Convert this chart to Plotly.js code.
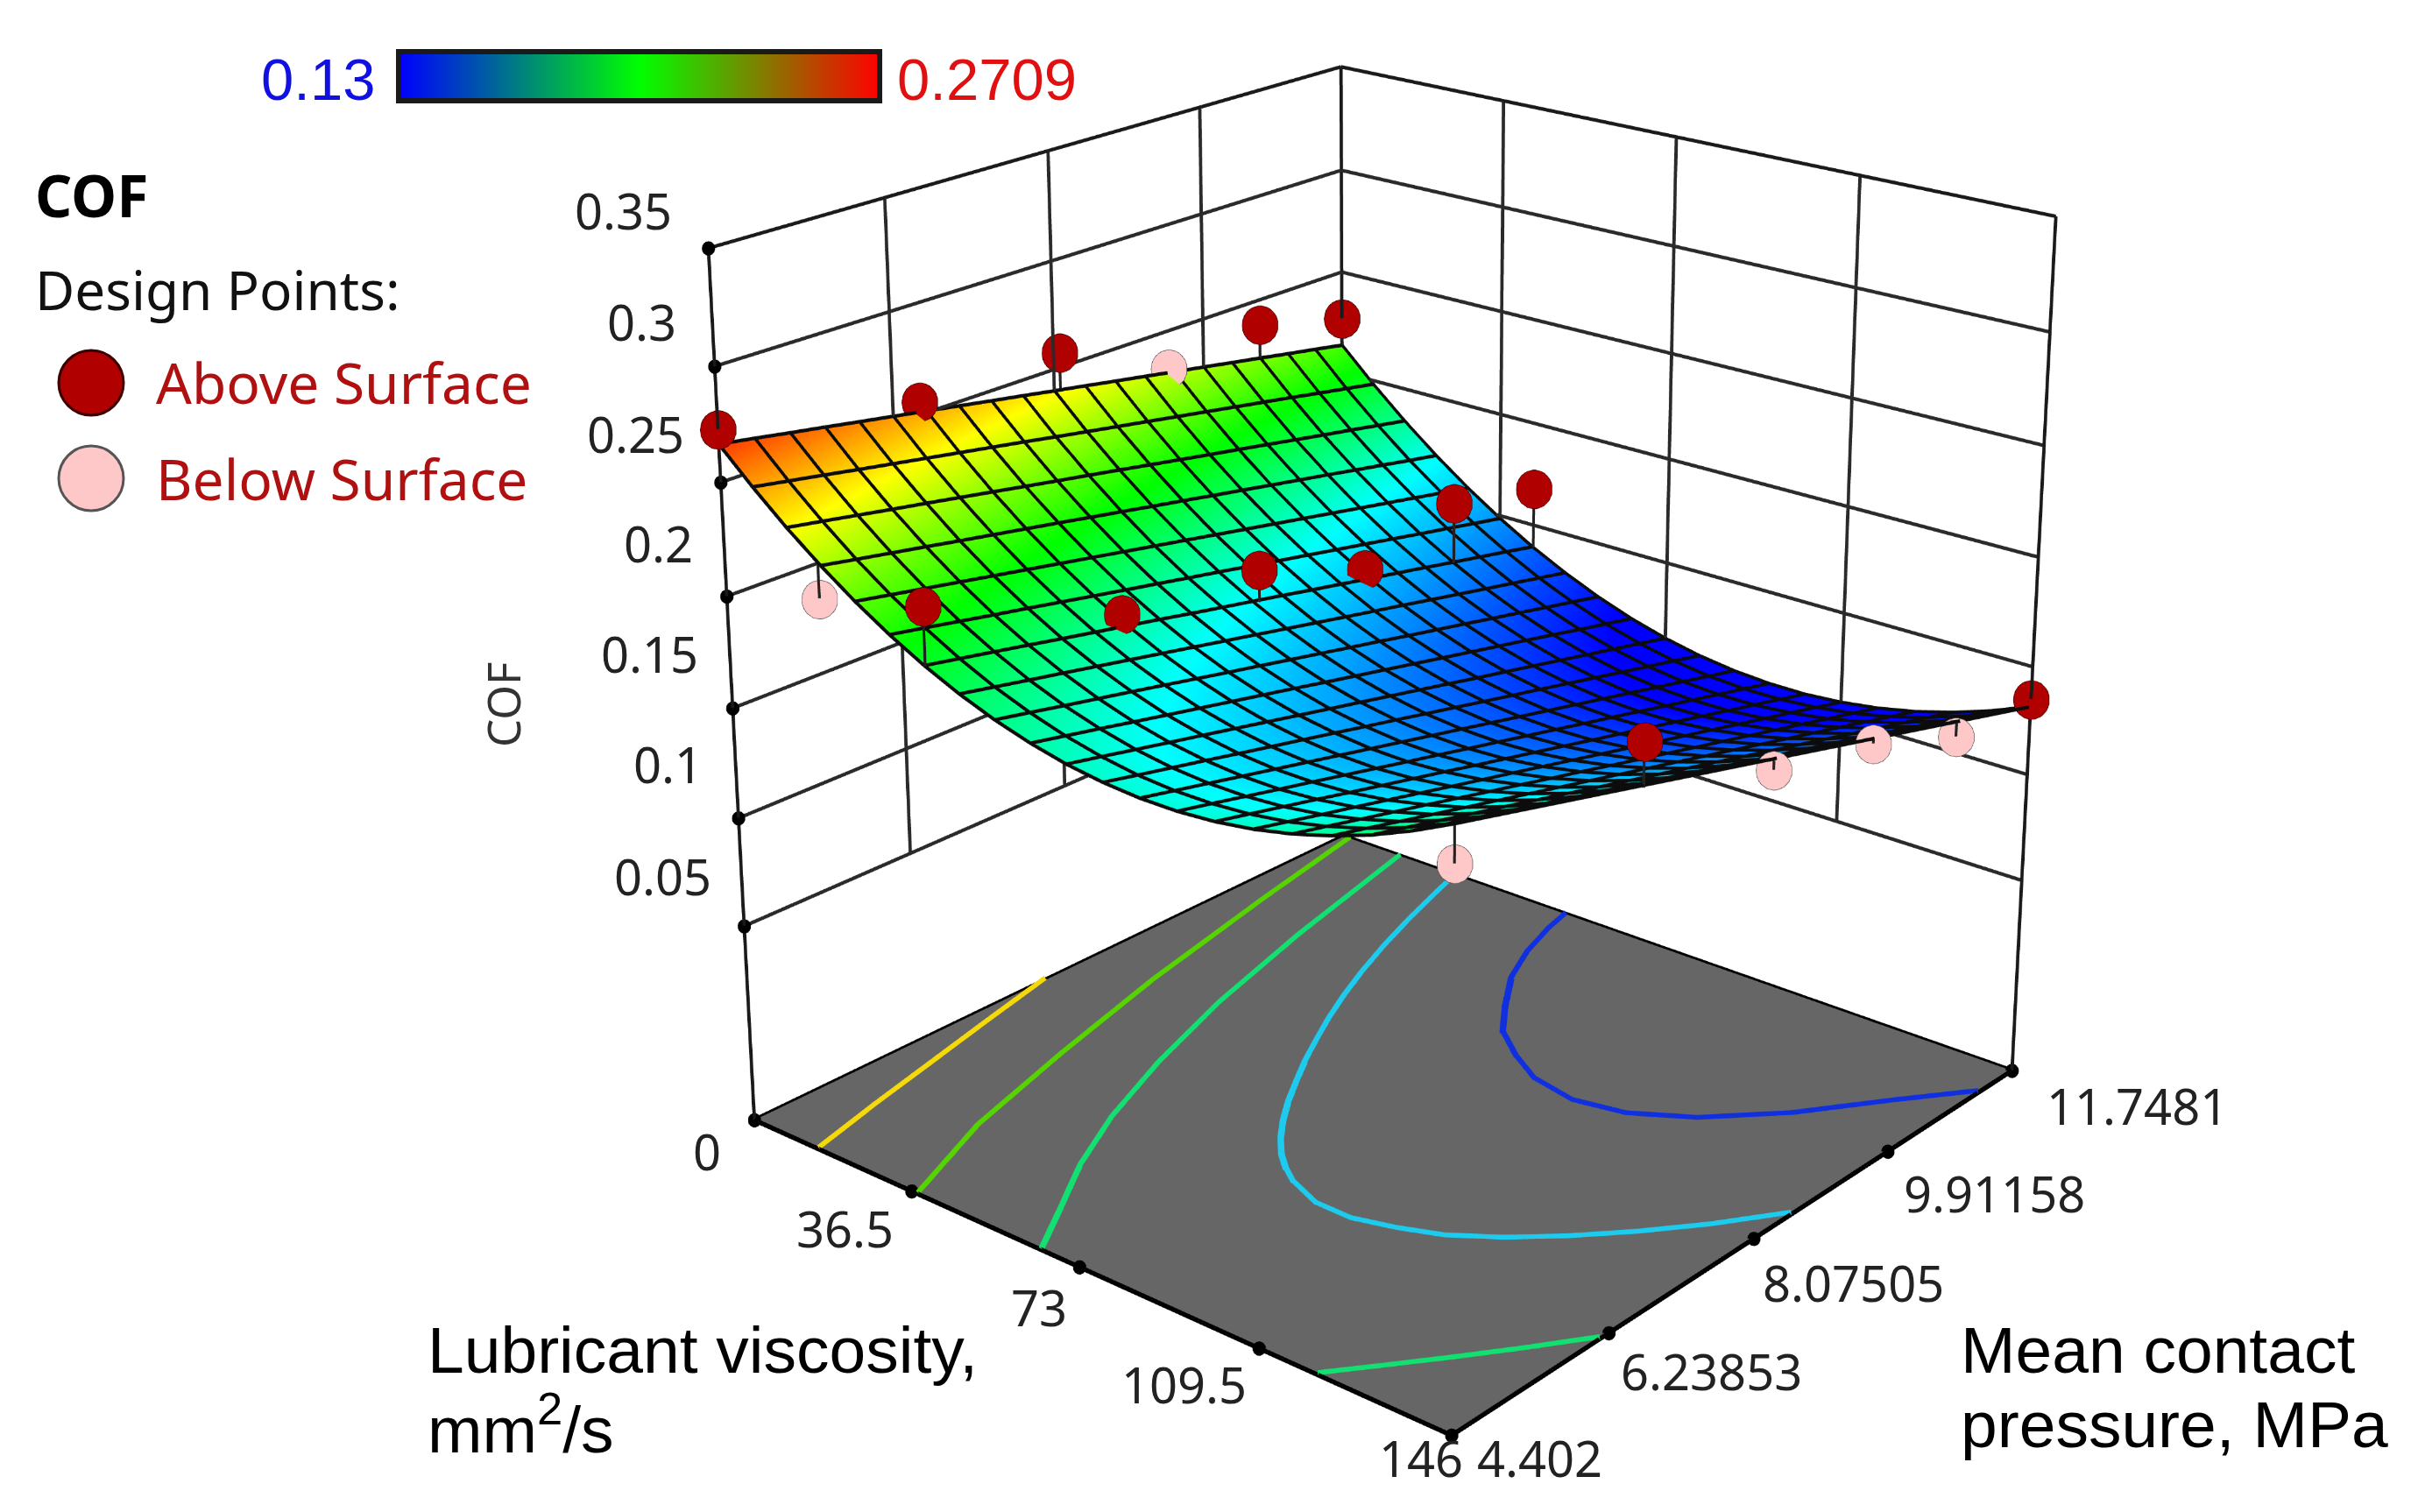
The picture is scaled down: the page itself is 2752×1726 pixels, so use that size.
<!DOCTYPE html>
<html><head><meta charset="utf-8">
<script src="https://cdn.plot.ly/plotly-3.0.1.min.js"></script>
<style>html,body{margin:0;padding:0;background:#fff;width:2752px;height:1726px;overflow:hidden;position:relative}#g{position:absolute;left:-13px;top:-1435px;width:3200px;height:4414px}</style>
</head><body><div id="g"></div>
<script>
const viscosity=[0,7.3,14.6,21.9,29.2,36.5,43.8,51.1,58.4,65.7,73,80.3,87.6,94.9,102.2,109.5,116.8,124.1,131.4,138.7,146];
const pressure=[4.402,4.7693,5.1366,5.5039,5.8712,6.2385,6.6058,6.9731,7.3404,7.7077,8.075,8.4423,8.8096,9.1769,9.5442,9.9116,10.2789,10.6462,11.0135,11.3808,11.7481];
const cofRead=[
[.2620,.2479,.2349,.2232,.2126,.2032,.1950,.1880,.1822,.1776,.1741,.1719,.1708,.1709,.1722,.1747,.1784,.1833,.1893,.1966,.2050],
[.2594,.2452,.2322,.2203,.2097,.2003,.1920,.1849,.1791,.1744,.1709,.1685,.1674,.1675,.1687,.1711,.1748,.1796,.1856,.1927,.2011],
[.2567,.2425,.2294,.2175,.2068,.1973,.1890,.1818,.1759,.1712,.1676,.1652,.1640,.1640,.1652,.1675,.1711,.1758,.1818,.1889,.1972],
[.2541,.2397,.2266,.2147,.2039,.1943,.1860,.1788,.1728,.1679,.1643,.1619,.1606,.1605,.1617,.1640,.1675,.1721,.1780,.1851,.1933],
[.2514,.2370,.2239,.2118,.2010,.1914,.1829,.1757,.1697,.1647,.1611,.1585,.1572,.1571,.1581,.1604,.1639,.1684,.1743,.1812,.1894],
[.2488,.2343,.2211,.2090,.1981,.1884,.1799,.1726,.1665,.1615,.1578,.1552,.1538,.1536,.1546,.1568,.1602,.1647,.1705,.1774,.1855],
[.2461,.2316,.2183,.2062,.1952,.1854,.1769,.1695,.1633,.1583,.1545,.1519,.1504,.1501,.1511,.1532,.1565,.1610,.1667,.1736,.1816],
[.2435,.2289,.2155,.2034,.1923,.1824,.1739,.1664,.1601,.1551,.1512,.1486,.1470,.1466,.1476,.1496,.1529,.1573,.1629,.1698,.1777],
[.2408,.2262,.2127,.2005,.1894,.1795,.1708,.1633,.1570,.1519,.1479,.1452,.1436,.1432,.1440,.1461,.1492,.1536,.1591,.1659,.1738],
[.2382,.2234,.2100,.1977,.1865,.1765,.1678,.1602,.1538,.1486,.1447,.1419,.1402,.1397,.1405,.1425,.1456,.1499,.1554,.1621,.1699],
[.2355,.2207,.2072,.1948,.1836,.1736,.1648,.1571,.1507,.1454,.1414,.1385,.1368,.1363,.1370,.1389,.1419,.1462,.1516,.1582,.1660],
[.2329,.2180,.2044,.1920,.1807,.1706,.1618,.1540,.1475,.1422,.1381,.1352,.1334,.1328,.1335,.1353,.1382,.1425,.1478,.1544,.1621],
[.2302,.2153,.2016,.1891,.1778,.1676,.1587,.1509,.1444,.1390,.1348,.1318,.1300,.1294,.1299,.1317,.1346,.1388,.1440,.1505,.1582],
[.2276,.2126,.1988,.1863,.1749,.1647,.1557,.1478,.1412,.1358,.1315,.1285,.1266,.1259,.1264,.1281,.1309,.1351,.1403,.1467,.1543],
[.2249,.2099,.1961,.1834,.1720,.1617,.1527,.1448,.1381,.1326,.1283,.1252,.1232,.1225,.1229,.1246,.1273,.1313,.1365,.1429,.1504],
[.2223,.2072,.1933,.1806,.1691,.1588,.1497,.1417,.1350,.1294,.1250,.1218,.1198,.1190,.1194,.1210,.1237,.1276,.1327,.1390,.1465],
[.2196,.2045,.1905,.1778,.1662,.1558,.1467,.1386,.1318,.1262,.1217,.1185,.1164,.1155,.1159,.1174,.1200,.1239,.1289,.1352,.1426],
[.2170,.2018,.1877,.1749,.1633,.1528,.1436,.1355,.1287,.1230,.1184,.1151,.1130,.1121,.1123,.1138,.1164,.1202,.1251,.1313,.1387],
[.2143,.1990,.1850,.1721,.1604,.1499,.1406,.1325,.1255,.1197,.1152,.1118,.1096,.1086,.1088,.1103,.1127,.1165,.1214,.1275,.1348],
[.2117,.1963,.1822,.1692,.1575,.1469,.1376,.1294,.1224,.1165,.1119,.1085,.1062,.1052,.1053,.1067,.1091,.1127,.1176,.1236,.1309],
[.2090,.1936,.1794,.1664,.1546,.1440,.1345,.1263,.1192,.1133,.1086,.1051,.1028,.1017,.1017,.1030,.1054,.1090,.1138,.1198,.1270]];
const readingOffset=0.004;
const cof=cofRead.map(r=>r.map(v=>v+readingOffset));

const viscTicks=[0,36.5,73,109.5,146];
const viscLabels=['0','36.5','73','109.5','146'];
const presTicks=[4.402,6.23853,8.07505,9.91158,11.7481];
const presLabels=['4.402','6.23853','8.07505','9.91158','11.7481'];
const cofTicks=[0.05,0.1,0.15,0.2,0.25,0.3,0.35];
const cofLabels=['0.05','0.1','0.15','0.2','0.25','0.3','0.35'];
const floorZ=-0.042;

const aboveVisc=[0,0,0,0,0,44,44,44,44,44,44,146,146];
const abovePres=[4.402,6.532,8.148,10.646,11.748,4.402,6.532,8.148,9.471,10.646,11.748,6.532,11.748];
const aboveCof=[.273,.256,.257,.238,.227,.225,.188,.183,.163,.177,.168,.205,.135];
const aboveSurf=[.266,.251,.240,.221,.213,.199,.182,.168,.157,.148,.139,.186,.131];
const belowVisc=[0,21.3,146,146,146,146];
const belowPres=[9.471,4.402,4.402,8.148,9.471,10.646];
const belowCof=[.232,.213,.194,.165,.1535,.1365];
const belowSurf=[.229,.228,.209,.169,.155,.143];

const contours=[
 {color:'#f5d90a',v:[0,3.8,7.6,11.4,15.3],p:[7.78,6.9,6.05,5.2,4.402]},
 {color:'#55d400',v:[1.75,7.3,14.6,21.9,29.2,38],p:[11.748,10.205,8.361,6.85,5.5,4.402]},
 {color:'#12e070',v:[13.87,21.9,29.2,36.5,43.8,51.1,58.4,64.97],p:[11.748,9.86,8.406,7.25,6.3,5.55,4.95,4.402]},
 {color:'#12e070',v:[120.9,127,133,139.5,146],p:[4.402,4.8,5.2,5.65,6.13]},
 {color:'#1ccbee',v:[27.01,29.2,32.85,36.5,40.15,43.8,47.45,51.1,54.75,58.4,62.05,65.7,69.35,73,76.65,80.3,87.6,94.9,102.2,109.5,116.8,124.1,131.4,138.7,146],p:[11.748,11.345,10.719,10.154,9.647,9.192,8.783,8.413,8.056,7.737,7.428,7.157,6.921,6.723,6.569,6.444,6.297,6.29,6.4,6.555,6.819,7.157,7.561,8.024,8.575]},
 {color:'#1030e0',v:[52.5,54,57,61.32,67.16,73,80.3,87.6,97.09,106.58,116.36,127.02,137.24,146],p:[11.748,11.4,10.9,10.4,9.95,9.55,9.27,9.05,8.95,9.05,9.36,9.92,10.646,11.234]}
];
const barValues=[0.13,0.1441,0.1582,0.1723,0.1864,0.20045,0.2145,0.2286,0.2427,0.2568,0.2709];

const Wv=3200,Hv=4414,L0=-13,T0=-1435;
const xMax=146,xMin=0,yMin=4.402,yMax=11.7481,zTop=0.35;
const rainbow=[[0,'#0000ff'],[0.32,'#00ffff'],[0.545,'#00ff00'],[0.77,'#ffff00'],[1,'#ff0000']];
const flat={ambient:1,diffuse:0,specular:0,roughness:1,fresnel:0};
function seg(list){const x=[],y=[],z=[];list.forEach(s=>{x.push(s[0],s[3],null);y.push(s[1],s[4],null);z.push(s[2],s[5],null);});return {x,y,z};}
function line3(s,color,width){return Object.assign({type:'scatter3d',mode:'lines',line:{color,width},hoverinfo:'skip',showlegend:false},seg(s));}

const gridSegs=[];
cofTicks.forEach(z=>{gridSegs.push([0,yMin,z,0,yMax,z]);gridSegs.push([0,yMax,z,xMax,yMax,z]);});
presTicks.slice(1,-1).forEach(p=>gridSegs.push([0,p,0.05,0,p,zTop]));
viscTicks.slice(1,-1).forEach(v=>gridSegs.push([v,yMax,0.05,v,yMax,zTop]));
const cornerSegs=[[0,yMin,floorZ,0,yMin,zTop],[0,yMax,floorZ,0,yMax,zTop],[xMax,yMax,floorZ,xMax,yMax,zTop],
 [0,yMin,zTop,0,yMax,zTop],[0,yMax,zTop,xMax,yMax,zTop]];
const floorSegs=[[0,yMin,floorZ,xMax,yMin,floorZ],[xMax,yMin,floorZ,xMax,yMax,floorZ],[xMax,yMax,floorZ,0,yMax,floorZ],[0,yMax,floorZ,0,yMin,floorZ]];
const stemSegs=[];
aboveVisc.forEach((v,i)=>stemSegs.push([v,abovePres[i],aboveCof[i],v,abovePres[i],aboveSurf[i]]));
belowVisc.forEach((v,i)=>stemSegs.push([v,belowPres[i],belowCof[i],v,belowPres[i],belowSurf[i]]));
const meshLift=0.0006;
const meshSegs=[];
pressure.forEach((p,j)=>{for(let i=0;i<viscosity.length-1;i++)meshSegs.push([viscosity[i],p,cof[j][i]+meshLift,viscosity[i+1],p,cof[j][i+1]+meshLift]);});
viscosity.forEach((v,i)=>{for(let j=0;j<pressure.length-1;j++)meshSegs.push([v,pressure[j],cof[j][i]+meshLift,v,pressure[j+1],cof[j+1][i]+meshLift]);});

const data=[
 {type:'heatmap',x:barValues,y:[0,1],z:[barValues,barValues],xaxis:'x',yaxis:'y',colorscale:[[0,'#0000ff'],[0.5,'#00ff00'],[1,'#ff0000']],zmin:0.13,zmax:0.2709,showscale:false,zsmooth:'best',hoverinfo:'skip'},
 {type:'surface',x:[xMin,xMax],y:[yMin,yMax],z:[[floorZ,floorZ],[floorZ,floorZ]],colorscale:[[0,'#666666'],[1,'#666666']],showscale:false,lighting:flat,hoverinfo:'skip'},
 {type:'surface',x:viscosity,y:pressure,z:cof,cmin:0.119,cmax:0.2749,colorscale:rainbow,showscale:false,lighting:flat,hoverinfo:'skip'},
 line3(meshSegs,'#0c0c0c',6),
 line3(gridSegs,'#2a2a2a',6),
 line3(cornerSegs,'#1a1a1a',6),
 line3(floorSegs,'#000000',8),
 line3(stemSegs,'#222222',5)
];
contours.forEach(c=>data.push({type:'scatter3d',mode:'lines',x:c.v,y:c.p,z:c.v.map(()=>floorZ+0.0005),line:{color:c.color,width:12},hoverinfo:'skip',showlegend:false}));
data.push({type:'scatter3d',mode:'markers',x:viscTicks.concat(presTicks.map(()=>xMax)),y:viscTicks.map(()=>yMin).concat(presTicks),z:viscTicks.concat(presTicks).map(()=>floorZ),marker:{size:7,color:'#000'},hoverinfo:'skip',showlegend:false});
data.push({type:'scatter3d',mode:'markers',x:cofTicks.map(()=>0),y:cofTicks.map(()=>yMin),z:cofTicks,marker:{size:7,color:'#000'},hoverinfo:'skip',showlegend:false});
data.push({type:'scatter3d',mode:'markers',name:'Above Surface',x:aboveVisc,y:abovePres,z:aboveCof,marker:{size:19,color:'#b00000',line:{color:'#3a0000',width:2}},hoverinfo:'skip',showlegend:false});
data.push({type:'scatter3d',mode:'markers',name:'Below Surface',x:belowVisc,y:belowPres,z:belowCof,marker:{size:19,color:'#ffc8c8',line:{color:'#555555',width:2}},hoverinfo:'skip',showlegend:false});

const px=x=>(x-L0)/Wv, py=y=>1-(y-T0)/Hv;
const noto='Noto Sans, Open Sans, sans-serif';
const arial='Liberation Sans, Arial, sans-serif';
function note(x,y,text,size,color,anchor,fam,extra){return Object.assign({xref:'paper',yref:'paper',x:px(x),y:py(y),text,showarrow:false,xanchor:anchor||'left',yanchor:'middle',font:{family:fam||noto,size,color}},extra);}
const zLabelPos=[[814,1000],[804,872],[799,746],[793,620],[783,495],[774,367],[769,240]];
const vLabelPos=[[807,1314],[965,1402],[1186,1492],[1351,1580],[1622,1664]];
const pLabelPos=[[1757,1664],[1953,1565],[2115,1464],[2276,1362],[2439,1262]];
const annotations=[
 note(430,91,'0.13',67,'#1010e0','right',arial),
 note(1022,91,'0.2709',67,'#e01010','left',arial),
 note(38,222,'<b>COF</b>',66,'#000000'),
 note(38,330,'Design Points:',62,'#111111'),
 note(176,437,'Above Surface',64,'#b01010'),
 note(176,546,'Below Surface',64,'#b01010'),
 note(574,804,'COF',51,'#333333','center',noto,{textangle:-90}),
 note(486,1541,'Lubricant viscosity,',75,'#000000','left',arial),
 note(486,1626,'mm<sup>2</sup>/s',75,'#000000','left',arial),
 note(2236,1541,'Mean contact',75,'#000000','left',arial),
 note(2236,1626,'pressure, MPa',75,'#000000','left',arial)
];
cofLabels.forEach((t,i)=>annotations.push(note(zLabelPos[i][0],zLabelPos[i][1],t,56,'#222222','right')));
viscLabels.forEach((t,i)=>annotations.push(note(vLabelPos[i][0],vLabelPos[i][1],t,56,'#222222','center')));
presLabels.forEach((t,i)=>annotations.push(note(pLabelPos[i][0],pLabelPos[i][1],t,56,'#222222','center')));
function circle(cx,cy,r,fill,lc){return {type:'circle',xref:'paper',yref:'paper',x0:px(cx-r),x1:px(cx+r),y0:py(cy+r),y1:py(cy-r),fillcolor:fill,line:{color:lc,width:3}};}
const shapes=[
 circle(104,437,37,'#b00000','#3a0000'),
 circle(104,546,37,'#ffc8c8','#555555'),
 {type:'rect',xref:'paper',yref:'paper',x0:px(455),x1:px(1004),y0:py(115),y1:py(59),line:{color:'#1a1a1a',width:6},fillcolor:'rgba(0,0,0,0)'}
];
const hide={visible:false,showgrid:false,zeroline:false,showline:false,showticklabels:false,showspikes:false,showbackground:false,title:{text:''}};
const layout={
 width:Wv,height:Hv,margin:{l:0,r:0,t:0,b:0},paper_bgcolor:'#ffffff',showlegend:false,
 xaxis:{domain:[px(455),px(1004)],visible:false,fixedrange:true,range:[0.13,0.2709]},
 yaxis:{domain:[py(115),py(59)],visible:false,fixedrange:true,range:[0,1]},
 annotations,shapes,
 scene:{domain:{x:[0,1],y:[0,1]},bgcolor:'rgba(0,0,0,0)',
  xaxis:Object.assign({range:[-1,147],autorange:false},hide),
  yaxis:Object.assign({range:[4.35,11.8],autorange:false},hide),
  zaxis:Object.assign({range:[-0.05,0.36],autorange:false},hide),
  aspectmode:'manual',aspectratio:{x:1.0847,y:1.0851,z:1.0354},
  camera:{projection:{type:'perspective'},up:{x:0,y:0,z:1},center:{x:0,y:0,z:0},eye:{x:3.035,y:-3.592,z:1.757}}}
};
Plotly.newPlot('g',data,layout,{displayModeBar:false});
</script></body></html>
